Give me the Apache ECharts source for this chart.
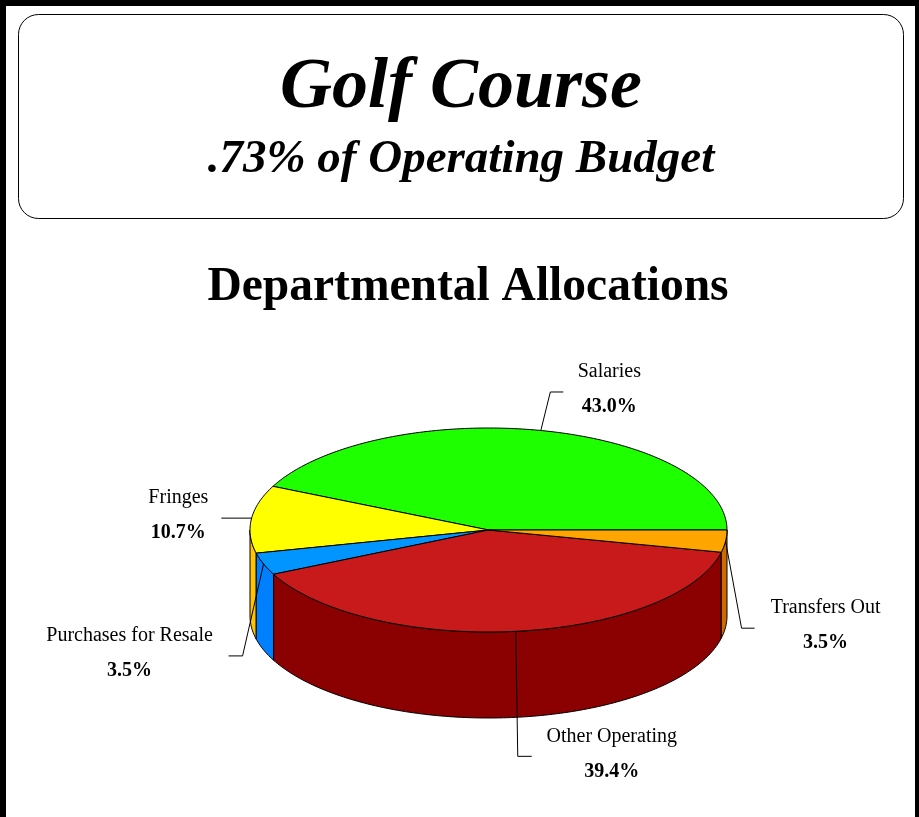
<!DOCTYPE html>
<html>
<head>
<meta charset="utf-8">
<title>Golf Course - Departmental Allocations</title>
<script src="https://cdn.jsdelivr.net/npm/echarts@6/dist/echarts.min.js"></script>
<style>
  html, body { margin: 0; padding: 0; background: #ffffff; }
  #chart { width: 919px; height: 817px; }
</style>
</head>
<body>
<div id="chart"></div>
<script>
// Budget shares by department (percent of the golf course budget)
const categories = ['Salaries', 'Fringes', 'Purchases for Resale', 'Other Operating', 'Transfers Out'];
const shares = [43.0, 10.7, 3.5, 39.4, 3.5];

// Headings
const mainTitle = 'Golf Course';
const subTitle = '.73% of Operating Budget';
const chartTitle = 'Departmental Allocations';

// Slice colours: top face and darker wall
const topColors = ['#1eff00', '#ffff00', '#0095ff', '#c81a1a', '#ffa500'];
const sideColors = ['#14b400', '#ffc300', '#0080ff', '#8b0000', '#d06a00'];

// Leader line layout: offset of the elbow from the rim, horizontal run, text centre offset
const leaderLayout = [
  { dx: 9.5, dy: -38.5, run: 13, textDx: 46 },
  { dx: 0, dy: -1, run: -30, textDx: -43 },
  { dx: -21, dy: 92, run: -14, textDx: -99 },
  { dx: 2, dy: 125, run: 14, textDx: 80 },
  { dx: 16, dy: 87, run: 13, textDx: 71 }
];

// Pie geometry (tilted disc)
const PIE = { cx: 488.5, cy: 530, rx: 238.5, ry: 102, depth: 86 };
const SERIF = "'Liberation Serif', 'Times New Roman', Times, serif";

const total = shares.reduce((a, b) => a + b, 0);
const startAngles = [];
const endAngles = [];
(function () {
  let acc = 0;
  shares.forEach(function (v) {
    startAngles.push(acc / total * 360);
    acc += v;
    endAngles.push(acc / total * 360);
  });
})();

function rimPoint(deg, drop) {
  const r = deg * Math.PI / 180;
  return [PIE.cx + PIE.rx * Math.cos(r), PIE.cy - PIE.ry * Math.sin(r) + (drop || 0)];
}

function arcPoints(a0, a1, drop) {
  const pts = [];
  const n = Math.max(2, Math.ceil(Math.abs(a1 - a0)));
  for (let i = 0; i <= n; i++) {
    pts.push(rimPoint(a0 + (a1 - a0) * i / n, drop));
  }
  return pts;
}

function renderSlice(params, api) {
  const i = params.dataIndex;
  const a0 = startAngles[i];
  const a1 = endAngles[i];
  const children = [];
  // Front wall: only the part of the slice that faces the viewer (180..360)
  const s0 = Math.max(a0, 180);
  const s1 = Math.min(a1, 360);
  if (s1 > s0) {
    const upper = arcPoints(s0, s1, 0);
    const lower = arcPoints(s1, s0, PIE.depth);
    children.push({
      type: 'polygon',
      shape: { points: upper.concat(lower) },
      style: { fill: sideColors[i], stroke: '#000', lineWidth: 1 }
    });
  }
  // Top face
  children.push({
    type: 'polygon',
    shape: { points: [[PIE.cx, PIE.cy]].concat(arcPoints(a0, a1, 0)) },
    style: { fill: topColors[i], stroke: '#000', lineWidth: 1 }
  });
  return { type: 'group', children: children };
}

function renderLabel(params, api) {
  const i = params.dataIndex;
  const mid = (startAngles[i] + endAngles[i]) / 2;
  const lay = leaderLayout[i];
  const p0 = rimPoint(mid, 0);
  const p1 = [p0[0] + lay.dx, p0[1] + lay.dy];
  const p2 = [p1[0] + lay.run, p1[1]];
  const tx = p2[0] + lay.textDx;
  return {
    type: 'group',
    children: [
      {
        type: 'polyline',
        shape: { points: [p0, p1, p2] },
        style: { stroke: '#000', lineWidth: 1, fill: null }
      },
      {
        type: 'text',
        style: {
          x: tx, y: p2[1] - 20,
          text: categories[i],
          fill: '#000',
          font: 'normal 20px ' + SERIF,
          align: 'center', verticalAlign: 'middle'
        }
      },
      {
        type: 'text',
        style: {
          x: tx, y: p2[1] + 15,
          text: shares[i].toFixed(1) + '%',
          fill: '#000',
          font: 'bold 20px ' + SERIF,
          align: 'center', verticalAlign: 'middle'
        }
      }
    ]
  };
}

const chart = echarts.init(document.getElementById('chart'), null, { renderer: 'canvas' });

const seriesData = shares.map(function (v, i) { return { name: categories[i], value: [i, v] }; });

chart.setOption({
  backgroundColor: '#ffffff',
  animation: false,
  graphic: [
    {
      type: 'rect', z: 0,
      shape: { x: 3, y: 3, width: 915, height: 830 },
      style: { fill: null, stroke: '#000', lineWidth: 6 }
    },
    {
      type: 'rect', z: 0,
      shape: { x: 18.5, y: 14.5, width: 885, height: 204, r: 20 },
      style: { fill: '#fff', stroke: '#000', lineWidth: 1 }
    },
    {
      type: 'text', z: 1,
      style: {
        x: 461, y: 88, text: mainTitle, fill: '#000',
        font: 'italic bold 72px ' + SERIF, align: 'center', verticalAlign: 'middle'
      }
    },
    {
      type: 'text', z: 1,
      style: {
        x: 461, y: 160, text: subTitle, fill: '#000',
        font: 'italic bold 47px ' + SERIF, align: 'center', verticalAlign: 'middle'
      }
    },
    {
      type: 'text', z: 1,
      style: {
        x: 468, y: 288, text: chartTitle, fill: '#000',
        font: 'bold 47.5px ' + SERIF, align: 'center', verticalAlign: 'middle'
      }
    }
  ],
  series: [
    {
      type: 'custom',
      coordinateSystem: 'none',
      z: 2,
      silent: true,
      renderItem: renderSlice,
      data: seriesData
    },
    {
      type: 'custom',
      coordinateSystem: 'none',
      z: 3,
      silent: true,
      renderItem: renderLabel,
      data: seriesData
    }
  ]
});
</script>
</body>
</html>
